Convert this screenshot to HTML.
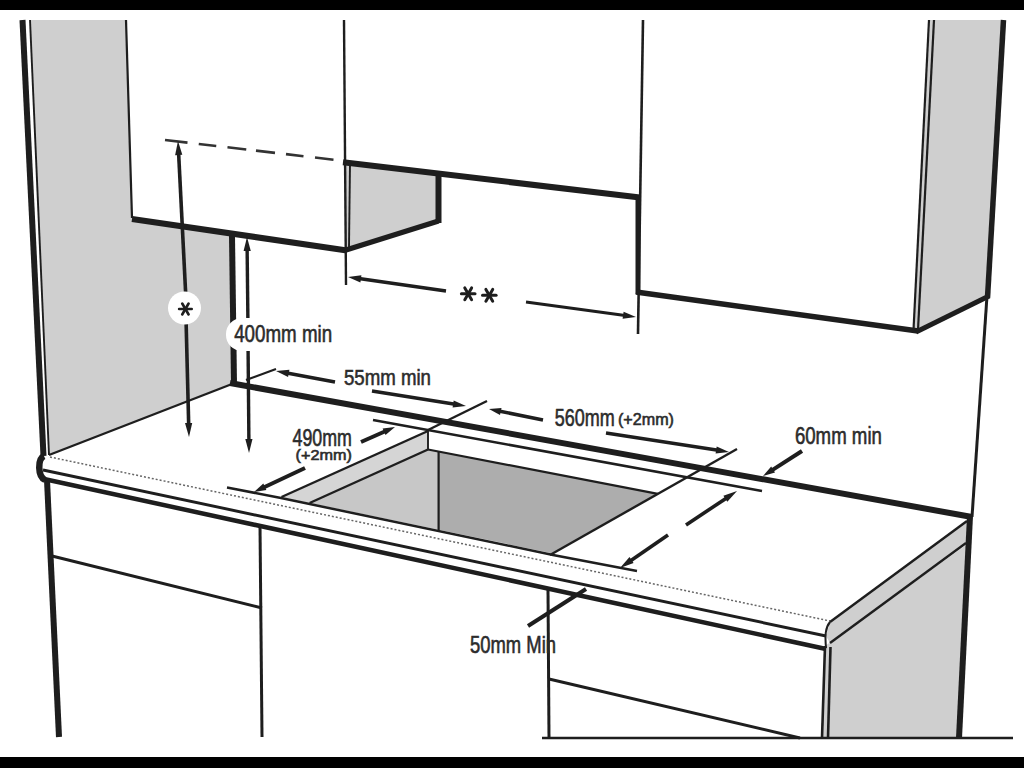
<!DOCTYPE html>
<html><head><meta charset="utf-8"><style>
html,body{margin:0;padding:0;background:#fff;}
body{width:1024px;height:768px;overflow:hidden;position:relative;}
svg{position:absolute;left:0;top:0;font-family:"Liberation Sans",sans-serif;}
</style></head><body>
<svg width="1024" height="768" viewBox="0 0 1024 768">
<rect x="0" y="0" width="1024" height="768" fill="#fff"/>
<rect x="0" y="0" width="1024" height="10" fill="#000"/>
<rect x="0" y="757" width="1024" height="11" fill="#000"/>
<polygon points="30,20 126,20 132,218 232,236 233,383 49,455" fill="#cfcfcf" stroke="none" stroke-width="0"/>
<polygon points="345,163 438,173 438,221 345,249" fill="#cfcfcf" stroke="none" stroke-width="0"/>
<polygon points="930,20 1004,20 988,296 918,331 914,330" fill="#cfcfcf" stroke="none" stroke-width="0"/>
<polygon points="428,431 281.5,497 309.6,503 428,449.5" fill="#d5d5d5" stroke="none" stroke-width="0"/>
<polygon points="428,449.5 309.6,503 438.6,529.8 438.6,451.5" fill="#c7c7c7" stroke="none" stroke-width="0"/>
<polygon points="438.6,451.5 657.9,493.8 552.8,553.4 438.6,529.8" fill="#adadad" stroke="none" stroke-width="0"/>
<polygon points="967,521 830,622 826,636 830,643 966,543" fill="#cfcfcf" stroke="none" stroke-width="0"/>
<polygon points="825,646 966,545 959,738 822,738" fill="#cfcfcf" stroke="none" stroke-width="0"/>
<line x1="22.5" y1="20" x2="43.5" y2="456" stroke="#1e1e1e" stroke-width="6" />
<line x1="30" y1="20" x2="49" y2="455" stroke="#1e1e1e" stroke-width="1.9" />
<line x1="126" y1="20" x2="132" y2="218" stroke="#1e1e1e" stroke-width="2.2" />
<line x1="132" y1="219" x2="347" y2="250.5" stroke="#1e1e1e" stroke-width="6.2" />
<line x1="165" y1="140.0" x2="187.5" y2="142.63" stroke="#333" stroke-width="2.6" />
<line x1="198.75" y1="143.95" x2="216.25" y2="146.0" stroke="#333" stroke-width="2.6" />
<line x1="227.5" y1="147.31" x2="246.25" y2="149.51" stroke="#333" stroke-width="2.6" />
<line x1="256" y1="150.65" x2="275" y2="152.87" stroke="#333" stroke-width="2.6" />
<line x1="286" y1="154.16" x2="303.5" y2="156.2" stroke="#333" stroke-width="2.6" />
<line x1="315" y1="157.55" x2="333.5" y2="159.71" stroke="#333" stroke-width="2.6" />
<line x1="344" y1="20" x2="346" y2="285" stroke="#1e1e1e" stroke-width="2.4" />
<line x1="350" y1="164" x2="349" y2="247" stroke="#1e1e1e" stroke-width="1.9" />
<line x1="343" y1="162.3" x2="640" y2="197.5" stroke="#1e1e1e" stroke-width="6" />
<line x1="438.5" y1="172" x2="438.5" y2="223" stroke="#1e1e1e" stroke-width="6" />
<polyline points="346,250 438.5,221" fill="none" stroke="#1e1e1e" stroke-width="5.5" stroke-linejoin="miter"/>
<line x1="643" y1="20" x2="638" y2="334" stroke="#1e1e1e" stroke-width="2.6" />
<line x1="638" y1="195" x2="638" y2="294" stroke="#1e1e1e" stroke-width="5" />
<line x1="636" y1="292" x2="918" y2="331" stroke="#1e1e1e" stroke-width="5.5" />
<line x1="929" y1="20" x2="913.5" y2="330" stroke="#1e1e1e" stroke-width="2.2" />
<line x1="934" y1="20" x2="918" y2="330" stroke="#1e1e1e" stroke-width="2.2" />
<line x1="1003.5" y1="20" x2="987.5" y2="298" stroke="#1e1e1e" stroke-width="5.5" />
<line x1="916" y1="332" x2="989" y2="296" stroke="#1e1e1e" stroke-width="5" />
<line x1="987" y1="296" x2="972" y2="517" stroke="#1e1e1e" stroke-width="3" />
<line x1="186" y1="300" x2="178.60301079275314" y2="152.9848395059685" stroke="#1e1e1e" stroke-width="3.6" />
<polygon points="178,141 182.3,154.8 175.1,155.2" fill="#1e1e1e"/>
<line x1="186" y1="318" x2="188.69757507915975" y2="425.00381147333644" stroke="#1e1e1e" stroke-width="3.6" />
<polygon points="189,437 185.0,423.1 192.2,422.9" fill="#1e1e1e"/>
<line x1="232" y1="236" x2="234" y2="384" stroke="#1e1e1e" stroke-width="6" />
<line x1="248" y1="330" x2="247.12902479933692" y2="248.9993063383329" stroke="#1e1e1e" stroke-width="3.4" />
<polygon points="247,237 250.8,251.0 243.6,251.0" fill="#1e1e1e"/>
<line x1="248" y1="340" x2="248.89380946779124" y2="441.00046986041247" stroke="#1e1e1e" stroke-width="3.4" />
<polygon points="249,453 245.3,439.0 252.5,439.0" fill="#1e1e1e"/>
<line x1="446" y1="291" x2="358.8894444302729" y2="278.5556349186104" stroke="#1e1e1e" stroke-width="3.5" />
<polygon points="348,277 361.4,275.3 360.4,282.4" fill="#1e1e1e"/>
<line x1="526" y1="302" x2="625.1008681515127" y2="315.51375474793355" stroke="#1e1e1e" stroke-width="3" />
<polygon points="636,317 622.6,318.8 623.6,311.7" fill="#1e1e1e"/>
<line x1="230" y1="383" x2="972" y2="517" stroke="#1e1e1e" stroke-width="6" />
<line x1="49" y1="455" x2="232" y2="384" stroke="#1e1e1e" stroke-width="2.4" />
<line x1="50" y1="457" x2="830" y2="621" stroke="#666" stroke-width="1.5" stroke-dasharray="2,2"/>
<line x1="43" y1="470" x2="826" y2="636" stroke="#1e1e1e" stroke-width="2.9" />
<line x1="44" y1="479" x2="826" y2="649" stroke="#1e1e1e" stroke-width="4.5" />
<path d="M44,456 C37.5,459 37.5,476 45,480" fill="none" stroke="#1e1e1e" stroke-width="6.5"/>
<line x1="967" y1="521" x2="830" y2="622" stroke="#1e1e1e" stroke-width="2.4" />
<line x1="830" y1="643" x2="966" y2="543" stroke="#1e1e1e" stroke-width="2.4" />
<path d="M830,622 C825,628 825,636 826,648" fill="none" stroke="#1e1e1e" stroke-width="2"/>
<line x1="970" y1="516" x2="959" y2="738" stroke="#1e1e1e" stroke-width="6" />
<line x1="825" y1="646" x2="822" y2="738" stroke="#1e1e1e" stroke-width="2.6" />
<line x1="830.5" y1="647" x2="828" y2="738" stroke="#1e1e1e" stroke-width="2.6" />
<line x1="373" y1="420" x2="762" y2="491" stroke="#1e1e1e" stroke-width="2.6" />
<polyline points="227,487.5 281,498 553,555 637,571" fill="none" stroke="#1e1e1e" stroke-width="2.5" stroke-linejoin="miter"/>
<line x1="428" y1="431" x2="281.5" y2="497" stroke="#1e1e1e" stroke-width="2.4" />
<line x1="428" y1="449.5" x2="309.6" y2="503" stroke="#1e1e1e" stroke-width="2.4" />
<line x1="428" y1="431" x2="428" y2="449.5" stroke="#1e1e1e" stroke-width="1.9" />
<line x1="438.6" y1="451.3" x2="438.6" y2="530" stroke="#1e1e1e" stroke-width="2.2" />
<line x1="428" y1="449.5" x2="657.9" y2="493.8" stroke="#1e1e1e" stroke-width="2.2" />
<line x1="737" y1="449" x2="550" y2="555" stroke="#1e1e1e" stroke-width="2.4" />
<line x1="428" y1="430" x2="487" y2="401" stroke="#1e1e1e" stroke-width="2.4" />
<line x1="543" y1="420" x2="498.7987654870802" y2="410.99604482144224" stroke="#1e1e1e" stroke-width="3.5" />
<polygon points="489,409 501.5,407.9 500.0,414.9" fill="#1e1e1e"/>
<line x1="606" y1="433" x2="718.1289351190317" y2="450.32072981513494" stroke="#1e1e1e" stroke-width="3.5" />
<polygon points="729,452 715.6,453.6 716.7,446.5" fill="#1e1e1e"/>
<line x1="335" y1="382" x2="286.81366328838675" y2="373.016106714784" stroke="#1e1e1e" stroke-width="3.5" />
<polygon points="276,371 289.4,369.8 288.1,376.9" fill="#1e1e1e"/>
<line x1="246" y1="380" x2="276" y2="369" stroke="#1e1e1e" stroke-width="2.2" />
<line x1="372" y1="391" x2="455.1374328655687" y2="404.26661162748434" stroke="#1e1e1e" stroke-width="3.5" />
<polygon points="466,406 452.6,407.5 453.7,400.4" fill="#1e1e1e"/>
<line x1="361" y1="442" x2="385.8508219842707" y2="431.03640206576296" stroke="#1e1e1e" stroke-width="4" />
<polygon points="395,427 385.5,435.1 382.6,428.5" fill="#1e1e1e"/>
<line x1="305" y1="468" x2="263.0481870220099" y2="487.7420296367012" stroke="#1e1e1e" stroke-width="4" />
<polygon points="254,492 263.3,483.6 266.4,490.1" fill="#1e1e1e"/>
<line x1="686" y1="525" x2="727.0153964679458" y2="497.6564023547027" stroke="#1e1e1e" stroke-width="3.6" />
<polygon points="737,491 727.3,501.8 723.4,495.8" fill="#1e1e1e"/>
<line x1="668" y1="535" x2="629.8885030903924" y2="561.2016541253552" stroke="#1e1e1e" stroke-width="3.6" />
<polygon points="620,568 629.5,557.1 633.6,563.0" fill="#1e1e1e"/>
<line x1="802" y1="451" x2="771.4187913896387" y2="470.6033388527957" stroke="#1e1e1e" stroke-width="4" />
<polygon points="763,476 771.2,466.5 775.0,472.6" fill="#1e1e1e"/>
<line x1="528" y1="626" x2="586" y2="589" stroke="#1e1e1e" stroke-width="4" />
<line x1="47" y1="480" x2="59" y2="737" stroke="#1e1e1e" stroke-width="6" />
<line x1="52" y1="556" x2="262" y2="608" stroke="#1e1e1e" stroke-width="3" />
<line x1="260" y1="526" x2="262" y2="737" stroke="#1e1e1e" stroke-width="3" />
<line x1="548" y1="590" x2="549" y2="738" stroke="#1e1e1e" stroke-width="3" />
<line x1="549" y1="679" x2="800" y2="738" stroke="#1e1e1e" stroke-width="3" />
<line x1="542" y1="738" x2="1013" y2="738" stroke="#1e1e1e" stroke-width="2.4" />
<circle cx="184.5" cy="308" r="16.5" fill="#fff"/>
<line x1="179.1" y1="309.0" x2="191.7" y2="309.0" stroke="#1e1e1e" stroke-width="2.6" stroke-linecap="round"/>
<line x1="182.2" y1="303.5" x2="188.6" y2="314.5" stroke="#1e1e1e" stroke-width="2.6" stroke-linecap="round"/>
<line x1="188.6" y1="303.5" x2="182.2" y2="314.5" stroke="#1e1e1e" stroke-width="2.6" stroke-linecap="round"/>
<line x1="461.4" y1="293.8" x2="475.0" y2="293.8" stroke="#1e1e1e" stroke-width="3" stroke-linecap="round"/>
<line x1="464.8" y1="287.9" x2="471.6" y2="299.7" stroke="#1e1e1e" stroke-width="3" stroke-linecap="round"/>
<line x1="471.6" y1="287.9" x2="464.8" y2="299.7" stroke="#1e1e1e" stroke-width="3" stroke-linecap="round"/>
<line x1="482.5" y1="295.3" x2="496.1" y2="295.3" stroke="#1e1e1e" stroke-width="3" stroke-linecap="round"/>
<line x1="485.9" y1="289.4" x2="492.7" y2="301.2" stroke="#1e1e1e" stroke-width="3" stroke-linecap="round"/>
<line x1="492.7" y1="289.4" x2="485.9" y2="301.2" stroke="#1e1e1e" stroke-width="3" stroke-linecap="round"/>
<rect x="226" y="318" width="112" height="33" rx="16" fill="#fff"/>
<text x="234.2" y="342.4" font-size="23.7" fill="#2c2c2c" stroke="#2c2c2c" stroke-width="0.6" font-weight="normal" text-anchor="start" textLength="98" lengthAdjust="spacingAndGlyphs">400mm min</text>
<text x="344" y="385" font-size="21.8" fill="#2c2c2c" stroke="#2c2c2c" stroke-width="0.6" font-weight="normal" text-anchor="start" textLength="87" lengthAdjust="spacingAndGlyphs">55mm min</text>
<text x="292.5" y="446" font-size="23" fill="#2c2c2c" stroke="#2c2c2c" stroke-width="0.6" font-weight="normal" text-anchor="start" textLength="59.4" lengthAdjust="spacingAndGlyphs">490mm</text>
<text x="295.6" y="460" font-size="14.8" fill="#2c2c2c" stroke="#2c2c2c" stroke-width="0.6" font-weight="normal" text-anchor="start" textLength="56.3" lengthAdjust="spacingAndGlyphs">(+2mm)</text>
<text x="554.8" y="426.25" font-size="23" fill="#2c2c2c" stroke="#2c2c2c" stroke-width="0.6" font-weight="normal" text-anchor="start" textLength="60" lengthAdjust="spacingAndGlyphs">560mm</text>
<text x="618" y="424.7" font-size="16" fill="#2c2c2c" stroke="#2c2c2c" stroke-width="0.6" font-weight="normal" text-anchor="start" textLength="56" lengthAdjust="spacingAndGlyphs">(+2mm)</text>
<text x="794.9" y="443.5" font-size="23" fill="#2c2c2c" stroke="#2c2c2c" stroke-width="0.6" font-weight="normal" text-anchor="start" textLength="87" lengthAdjust="spacingAndGlyphs">60mm min</text>
<text x="470" y="652.8" font-size="24" fill="#2c2c2c" stroke="#2c2c2c" stroke-width="0.6" font-weight="normal" text-anchor="start" textLength="86" lengthAdjust="spacingAndGlyphs">50mm Min</text>
</svg>
</body></html>
